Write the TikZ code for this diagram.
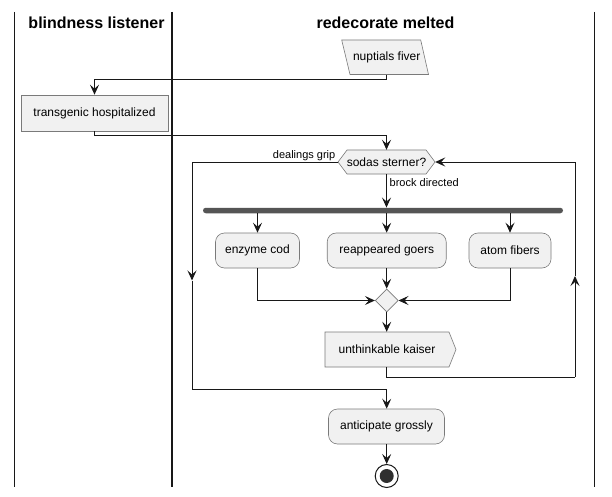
\documentclass[tikz,border=0pt]{standalone}
\usepackage{fontspec}
\setmainfont{Liberation Sans}
\usetikzlibrary{arrows.meta,calc,shapes.geometric}
\definecolor{boxfill}{HTML}{F1F1F1}
\definecolor{boxline}{HTML}{7A7A7A}
\definecolor{ink}{HTML}{181818}
\definecolor{barcol}{HTML}{555555}
\begin{document}
\begin{tikzpicture}[x=1pt,y=-1pt,
  every node/.style={font=\fontsize{12}{14}\selectfont, text=black},
  lane/.style={line width=1.6pt, draw=ink},
  conn/.style={draw=ink, line width=0.9pt, -{Stealth[length=10pt,width=9pt,inset=4pt]}},
  plainline/.style={draw=ink, line width=0.9pt},
  shapeline/.style={draw=boxline, fill=boxfill, line width=0.6pt},
  act/.style={shapeline, rounded corners=9pt, minimum height=35pt, inner sep=0pt},
  rectact/.style={shapeline, minimum height=36pt, inner sep=0pt},
  ghost/.style={inner sep=0pt},
  lbl/.style={font=\fontsize{11}{13}\selectfont, inner sep=0pt},
  lanetitle/.style={font=\bfseries\fontsize{16}{19}\selectfont, inner sep=0pt}
]
\useasboundingbox (0,0) rectangle (612,497);
\fill[white] (0,0) rectangle (612,497);

% swimlanes
\draw[lane] (14.5,12) -- (14.5,487);
\draw[lane] (172,12) -- (172,487);
\draw[lane] (594.5,12) -- (594.5,487);
\node[lanetitle, anchor=base] (t1) at (96.5,29) {blindness listener};
\node[lanetitle, anchor=base] (t2) at (385.5,29) {redecorate melted};

% nuptials fiver (parallelogram)
\draw[shapeline] (341.7,40) -- (420.7,40) -- (428.5,74.5) -- (350,74.5) -- cycle;
\node[ghost, minimum width=80pt, minimum height=34.5pt] (nf) at (386.7,57.25) {nuptials fiver};

% transgenic hospitalized
\node[rectact, minimum width=147pt] (th) at (94.5,113) {transgenic hospitalized};

% hexagon
\draw[shapeline] (338,162) -- (347,150) -- (426,150) -- (435,162) -- (426,174) -- (347,174) -- cycle;
\node[ghost, minimum width=97pt, minimum height=24pt] (hx) at (386.5,162) {sodas sterner?};

% fork bar
\node[fill=barcol, draw=none, inner sep=0pt, minimum width=360pt, minimum height=5.5pt, rounded corners=2.75pt] (bar) at (383,210.5) {};

% parallel activities
\node[act, minimum width=84pt] (ec) at (257.5,250.5) {enzyme cod};
\node[act, minimum width=119pt] (rg) at (386.7,250.5) {reappeared goers};
\node[act, minimum width=82pt] (at) at (510,250.5) {atom fibers};

% merge diamond
\node[diamond, shapeline, inner sep=0pt, minimum width=23pt, minimum height=23pt] (dm) at (386.7,300.5) {};

% unthinkable kaiser (pentagon)
\draw[shapeline] (325,332) -- (449,332) -- (456,349.5) -- (449,367) -- (325,367) -- cycle;
\node[ghost, minimum width=124pt, minimum height=35pt] (uk) at (387,349.5) {unthinkable kaiser};

% anticipate grossly
\node[act, minimum width=116pt] (ag) at (386.5,426.5) {anticipate grossly};

% end
\node[circle, draw=ink, fill=white, line width=1pt, minimum size=23pt, inner sep=0pt] (en) at (386.7,476) {};
\fill[ink!90] (en.center) circle (7pt);

% coordinates for loop arrows
\coordinate (la) at (192,280.5);
\coordinate (lb) at (192,389);
\coordinate (ra) at (575,276);
\coordinate (rb) at (575,377);

% connectors
\draw[conn] (nf.south) -- ++(0,4.5) -| (th.north);
\draw[conn] (th.south) -- ++(0,4) -| (hx.north);
\draw[conn] (hx.south) -- (hx.south |- bar.north);
\draw[conn] (ec.north |- bar.south) -- (ec.north);
\draw[conn] (rg.north |- bar.south) -- (rg.north);
\draw[conn] (at.north |- bar.south) -- (at.north);
\draw[conn] (ec.south) |- (dm.west);
\draw[conn] (at.south) |- (dm.east);
\draw[conn] (rg.south) -- (dm.north);
\draw[conn] (dm.south) -- (uk.north -| dm.south);
\draw[plainline] (uk.south -| dm.south) |- (rb);
\draw[conn] (rb) -- (ra);
\draw[conn] (ra) |- (hx.east);
\draw[conn] (hx.west) -| (la);
\draw[plainline] (la) -- (lb);
\draw[conn] (lb) -| (ag.north -| en.north);
\draw[conn] (ag.south -| en.north) -- (en.north);

% labels
\node[lbl, anchor=base east] (l1) at (335.5,158) {dealings grip};
\node[lbl, anchor=base west] (l2) at (389.5,186) {brock directed};
\end{tikzpicture}
\end{document}
